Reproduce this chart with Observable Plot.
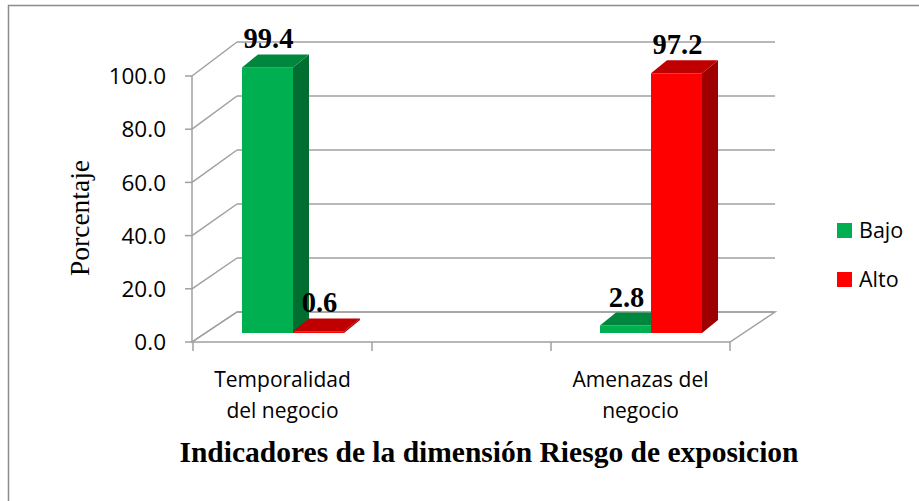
<!DOCTYPE html>
<html>
<head>
<meta charset="utf-8">
<script src="https://cdn.jsdelivr.net/npm/d3@7"></script>
<script src="https://cdn.jsdelivr.net/npm/@observablehq/plot@0.6"></script>
<style>
  html, body { margin: 0; padding: 0; background: #fff; }
  #chart svg { display: block; }
</style>
</head>
<body>
<div id="chart"></div>
<script>
// Category slots along the floor (the middle slot is left empty)
const categories = ["Temporalidad\ndel negocio", "", "Amenazas del\nnegocio"];
const series = ["Bajo", "Alto"];
const bajo = [99.4, null, 2.8];
const alto = [0.6, null, 97.2];
const yTicks = [0, 20, 40, 60, 80, 100];

const frontColors = ["#00B050", "#FF0000"];
const topColors = ["#00873D", "#C00000"];
const sideColors = ["#006E31", "#9E0000"];

const titleText = "Indicadores de la dimensión Riesgo de exposicion";
const yLabelText = "Porcentaje";

const rows = [];
categories.forEach((c, i) => {
  [bajo, alto].forEach((vals, j) => {
    if (vals[i] != null) rows.push({category: c, series: series[j], value: vals[i]});
  });
});

// Oblique projection of the floor and walls
const depth = {dx: 45, dy: -30, stretch: 0.015};
const barPlane = 0.3;              // bars sit part-way into the floor
const barShiftX = 10.5;            // horizontal shift of the bar plane
const barDepth = {dx: 16, dy: -13};
const barFrac = 0.285;             // bar width as a share of a slot

const calibri = "'Open Sans', 'Liberation Sans', sans-serif";
const serif = "'Liberation Serif', 'DejaVu Serif', serif";
const gray = "#A0A0A0";

function yAt(scales, v, t) {
  const y0 = scales.y(0), yv = scales.y(v);
  return y0 + depth.dy * t - (y0 - yv) * (1 + depth.stretch * t);
}

function bandwidth(scales) {
  if (scales.scales && scales.scales.x && scales.scales.x.bandwidth) return scales.scales.x.bandwidth;
  if (typeof scales.x.bandwidth === "function") return scales.x.bandwidth();
  return scales.x(categories[1]) - scales.x(categories[0]);
}

function walls(index, scales, values, dims) {
  const g = d3.create("svg:g");
  const x0 = dims.marginLeft, x1 = dims.width - dims.marginRight;
  const yF = scales.y(0);
  const bw = bandwidth(scales);

  // floor outline
  const floor = [[x0, yF], [x1, yF], [x1 + depth.dx, yAt(scales, 0, 1)], [x0 + depth.dx, yAt(scales, 0, 1)]];
  g.append("path")
    .attr("d", "M" + floor.map(p => p.join(",")).join("L") + "Z")
    .attr("fill", "none").attr("stroke", gray).attr("stroke-width", 1.5);

  for (const v of yTicks) {
    const yf = scales.y(v), yb = yAt(scales, v, 1);
    // back wall gridline
    g.append("line")
      .attr("x1", x0 + depth.dx).attr("x2", x1 + depth.dx)
      .attr("y1", yb).attr("y2", yb)
      .attr("stroke", gray).attr("stroke-width", 1.5);
    // side wall gridline
    g.append("line")
      .attr("x1", x0).attr("y1", yf)
      .attr("x2", x0 + depth.dx).attr("y2", yb)
      .attr("stroke", gray).attr("stroke-width", 1.5);
    // axis tick
    g.append("line")
      .attr("x1", x0 - 7).attr("x2", x0)
      .attr("y1", yf).attr("y2", yf)
      .attr("stroke", gray).attr("stroke-width", 1.5);
    g.append("text")
      .attr("x", x0 - 26).attr("y", yf)
      .attr("dy", "0.36em")
      .attr("text-anchor", "end")
      .attr("font-family", calibri).attr("font-size", 22.5)
      .attr("fill", "#000")
      .text(d3.format(".1f")(v));
  }

  // vertical axis line
  g.append("line")
    .attr("x1", x0).attr("x2", x0)
    .attr("y1", scales.y(0)).attr("y2", scales.y(100))
    .attr("stroke", gray).attr("stroke-width", 1.5);

  // category boundaries and labels
  const bounds = categories.map(c => scales.x(c)).concat([scales.x(categories[categories.length - 1]) + bw]);
  for (const bx of bounds) {
    g.append("line")
      .attr("x1", bx).attr("x2", bx)
      .attr("y1", yF).attr("y2", yF + 9)
      .attr("stroke", gray).attr("stroke-width", 1.5);
  }
  for (const c of categories) {
    if (!c) continue;
    const cx = scales.x(c) + bw / 2;
    const t = g.append("text")
      .attr("text-anchor", "middle")
      .attr("font-family", calibri).attr("font-size", 21)
      .attr("fill", "#000");
    c.split("\n").forEach((line, k) => {
      t.append("tspan").attr("x", cx).attr("y", yF + 45 + k * 31).text(line);
    });
  }
  return g.node();
}

function bars(index, scales, values, dims) {
  const g = d3.create("svg:g");
  const bw = bandwidth(scales);
  const w = bw * barFrac;
  const place = d => {
    const j = series.indexOf(d.series);
    const cx = scales.x(d.category) + bw / 2;
    const left = (j === 0 ? cx - w : cx) + barShiftX;
    return {j, left, right: left + w, yTop: yAt(scales, d.value, barPlane), yBot: yAt(scales, 0, barPlane)};
  };
  const poly = pts => "M" + pts.map(p => p.join(",")).join("L") + "Z";
  const {dx, dy} = barDepth;
  for (const i of index) {
    const d = rows[i];
    const {j, left, right, yTop, yBot} = place(d);
    g.append("path")
      .attr("d", poly([[right, yTop], [right + dx, yTop + dy], [right + dx, yBot + dy], [right, yBot]]))
      .attr("fill", sideColors[j]);
    g.append("rect")
      .attr("x", left).attr("y", yTop)
      .attr("width", w).attr("height", yBot - yTop)
      .attr("fill", scales.color(d.series));
    g.append("path")
      .attr("d", poly([[left, yTop], [right, yTop], [right + dx, yTop + dy], [left + dx, yTop + dy]]))
      .attr("fill", topColors[j]);
  }
  // value labels
  for (const i of index) {
    const d = rows[i];
    const {left, yTop} = place(d);
    g.append("text")
      .attr("x", left + w / 2 + 1).attr("y", yTop + dy - 6)
      .attr("text-anchor", "middle")
      .attr("font-family", serif).attr("font-weight", "bold").attr("font-size", 28.5)
      .attr("fill", "#000")
      .text(d3.format(".1f")(d.value));
  }
  return g.node();
}

function decor(index, scales, values, dims) {
  const g = d3.create("svg:g");
  // chart border
  g.append("rect")
    .attr("x", 8.5).attr("y", 5.5)
    .attr("width", dims.width + 20).attr("height", dims.height + 20)
    .attr("fill", "none").attr("stroke", "#8C8C8C").attr("stroke-width", 1.5);
  // legend
  series.forEach((s, k) => {
    const y = 223 + k * 49;
    g.append("rect")
      .attr("x", 837).attr("y", y).attr("width", 15).attr("height", 15)
      .attr("fill", scales.color(s));
    g.append("text")
      .attr("x", 859).attr("y", y + 7.5).attr("dy", "0.36em")
      .attr("text-anchor", "start")
      .attr("font-family", calibri).attr("font-size", 21.5)
      .attr("fill", "#000")
      .text(s);
  });
  // axis titles
  g.append("text")
    .attr("transform", "translate(79,218) rotate(-90)")
    .attr("text-anchor", "middle").attr("dy", "0.35em")
    .attr("font-family", serif).attr("font-size", 27.5)
    .attr("fill", "#000")
    .text(yLabelText);
  g.append("text")
    .attr("x", 489).attr("y", 462)
    .attr("text-anchor", "middle")
    .attr("font-family", serif).attr("font-weight", "bold").attr("font-size", 29.5)
    .attr("fill", "#000")
    .text(titleText);
  return g.node();
}

const chart = Plot.plot({
  width: 919,
  height: 501,
  marginLeft: 192,
  marginRight: 189,
  marginTop: 76,
  marginBottom: 159,
  style: {background: "#fff", overflow: "visible"},
  x: {type: "band", domain: categories, padding: 0, axis: null},
  y: {domain: [0, 100], axis: null},
  color: {domain: series, range: frontColors},
  marks: [
    Plot.ruleY(yTicks, {render: walls}),
    Plot.barY(rows, {x: "category", y: "value", fill: "series", render: bars}),
    Plot.ruleY([0], {render: decor})
  ]
});

document.getElementById("chart").appendChild(chart);
</script>
</body>
</html>
